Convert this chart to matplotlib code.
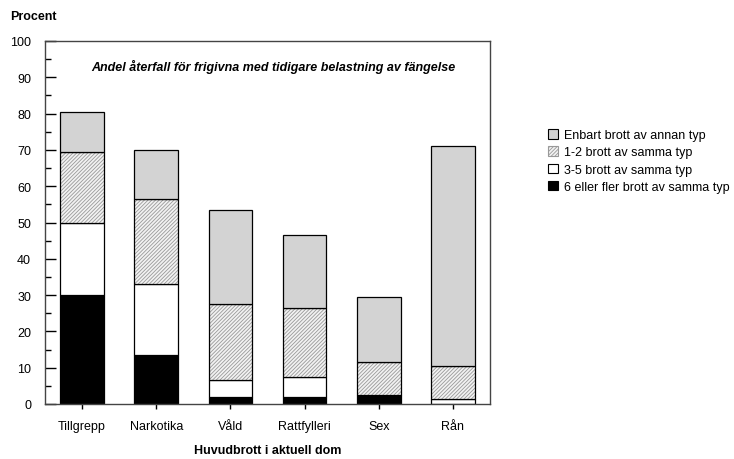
import matplotlib.pyplot as plt
import numpy as np
from matplotlib.patches import Patch

plt.rcParams['font.family'] = ['Liberation Sans', 'DejaVu Sans']
plt.rcParams['hatch.linewidth'] = 0.6

categories = ["Tillgrepp", "Narkotika", "Våld", "Rattfylleri", "Sex", "Rån"]
six_plus = [30, 13.5, 2, 2, 2.5, 0]
three_five = [20, 19.5, 4.5, 5.5, 0, 1.5]
one_two = [19.5, 23.5, 21, 19, 9, 9]
other_only = [11, 13.5, 26, 20, 18, 60.5]

labels = ["Enbart brott av annan typ", "1-2 brott av samma typ",
          "3-5 brott av samma typ", "6 eller fler brott av samma typ"]

fig = plt.figure(figsize=(7.34, 4.6), dpi=100)
ax = fig.add_axes([45 / 734, 1 - 405 / 460, 445 / 734, 363 / 460])

x = np.arange(len(categories))
w = 0.59
b0 = np.zeros(len(categories))
b1 = b0 + np.array(six_plus)
b2 = b1 + np.array(three_five)
b3 = b2 + np.array(one_two)

ax.bar(x, six_plus, w, bottom=b0, color="black", edgecolor="black", lw=0.9)
ax.bar(x, three_five, w, bottom=b1, color="white", edgecolor="black", lw=0.9)
# hatched layer: fine grey hatch, then black outline on top
ax.bar(x, one_two, w, bottom=b2, color="#f2f2f2", edgecolor="#999999", hatch="/////////", lw=0)
ax.bar(x, one_two, w, bottom=b2, fill=False, edgecolor="black", lw=0.9)
ax.bar(x, other_only, w, bottom=b3, color="#d3d3d3", edgecolor="black", lw=0.9)

ax.set_xlim(-0.5, 5.5)
ax.set_ylim(0, 100)
ax.set_yticks(np.arange(0, 101, 10))
ax.set_yticks(np.arange(5, 100, 10), minor=True)
ax.set_xticks(x)
ax.set_xticklabels(categories)
ax.tick_params(axis="y", which="major", direction="in", length=8, width=1, labelsize=9, pad=10)
ax.tick_params(axis="y", which="minor", direction="in", length=4, width=1)
ax.tick_params(axis="x", direction="out", length=3.5, width=1, labelsize=9, pad=8)
for s in ax.spines.values():
    s.set_linewidth(1)
    s.set_color("#444444")

ax.text(0.513, 0.93, "Andel återfall för frigivna med tidigare belastning av fängelse",
        transform=ax.transAxes, ha="center", va="center", fontsize=9,
        fontweight="bold", style="italic")
fig.text(10 / 734, 1 - 17 / 460, "Procent", fontsize=9, fontweight="bold", va="center")
ax.set_xlabel("Huvudbrott i aktuell dom", fontsize=9, fontweight="bold", labelpad=9)

handles = [
    Patch(facecolor="#d3d3d3", edgecolor="black", lw=0.8),
    Patch(facecolor="#f2f2f2", edgecolor="#999999", hatch="/////////", lw=0.8),
    Patch(facecolor="white", edgecolor="black", lw=0.8),
    Patch(facecolor="black", edgecolor="black", lw=0.8),
]
fig.legend(handles, labels, loc="upper left", bbox_to_anchor=(537 / 734, 1 - 119 / 460),
           frameon=False, fontsize=9, handlelength=0.8, handleheight=0.8,
           handletextpad=0.5, labelspacing=0.4)

fig.savefig("out.png", dpi=100)
